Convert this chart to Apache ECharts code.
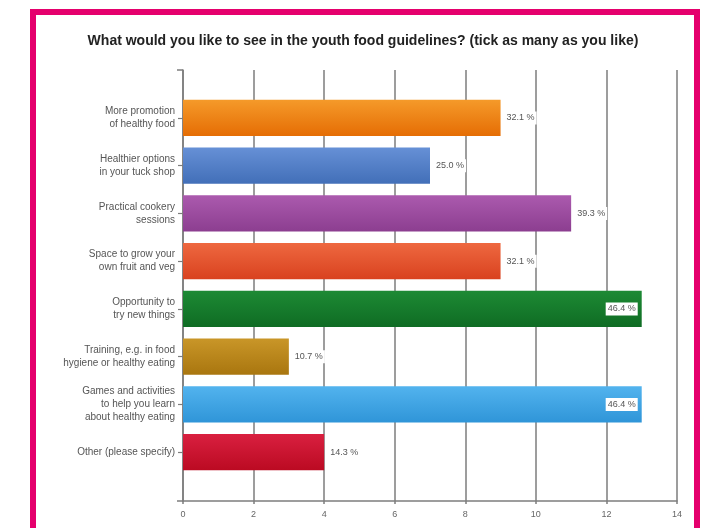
<!DOCTYPE html>
<html>
<head>
<meta charset="utf-8">
<script src="https://cdn.jsdelivr.net/npm/echarts@6/dist/echarts.min.js"></script>
<style>
  html, body { margin: 0; padding: 0; background: #fff; }
  #main { width: 703px; height: 528px; }
</style>
</head>
<body>
<div id="main"></div>
<script>
var categories = [
    'More promotion\nof healthy food',
    'Healthier options\nin your tuck shop',
    'Practical cookery\nsessions',
    'Space to grow your\nown fruit and veg',
    'Opportunity to\ntry new things',
    'Training, e.g. in food\nhygiene or healthy eating',
    'Games and activities\nto help you learn\nabout healthy eating',
    'Other (please specify)'
];
var counts = [9, 7, 11, 9, 13, 3, 13, 4];
var percentLabels = ['32.1 %', '25.0 %', '39.3 %', '32.1 %', '46.4 %', '10.7 %', '46.4 %', '14.3 %'];
var xTicks = [0, 14, 2];   // min, max, interval

// top / bottom shade of each bar
var barColors = [
    ['#f59a2a', '#e56d04'],
    ['#6690d6', '#426fb8'],
    ['#ab5aae', '#8c3e90'],
    ['#ee6840', '#d9421f'],
    ['#1d8a34', '#0f6c24'],
    ['#c99628', '#a9760f'],
    ['#52b3ee', '#2f95d8'],
    ['#d92040', '#bb0a22']
];

var chart = echarts.init(document.getElementById('main'));
var font = '"Liberation Sans", Arial, sans-serif';
var lineGray = '#7d7d7d';

var barData = counts.map(function (v, i) {
    return {
        value: v,
        itemStyle: {
            color: new echarts.graphic.LinearGradient(0, 0, 0, 1, [
                { offset: 0, color: barColors[i][0] },
                { offset: 1, color: barColors[i][1] }
            ])
        },
        label: { position: v >= xTicks[1] - 1 ? 'insideRight' : 'right' }
    };
});

var option = {
    backgroundColor: '#fff',
    animation: false,
    title: {
        text: 'What would you like to see in the youth food guidelines? (tick as many as you like)',
        left: 358,
        textAlign: 'center',
        top: 29,
        textStyle: { fontFamily: font, fontSize: 14, fontWeight: 'bold', color: '#222' }
    },
    graphic: [{
        type: 'rect',
        shape: { x: 33, y: 12, width: 664, height: 540 },
        style: { fill: 'none', stroke: '#e5006d', lineWidth: 6 },
        z: 100
    }],
    grid: [
        // frame grid: gridlines, x labels, axis lines
        { left: 183, right: 26, top: 70, bottom: 27 },
        // bar grid
        { left: 183, right: 26, top: 94, bottom: 52 }
    ],
    xAxis: [{
        gridIndex: 0,
        type: 'value',
        min: xTicks[0], max: xTicks[1], interval: xTicks[2],
        axisLine: { show: true, lineStyle: { color: lineGray, width: 1.5 } },
        axisTick: { show: true, length: 3, lineStyle: { color: lineGray, width: 1.5 } },
        axisLabel: { fontFamily: font, fontSize: 9, color: '#666', margin: 9 },
        splitLine: { show: true, lineStyle: { color: lineGray, width: 1.5 } }
    }, {
        gridIndex: 1,
        type: 'value',
        min: xTicks[0], max: xTicks[1],
        show: false
    }],
    yAxis: [{
        gridIndex: 0,
        type: 'value',
        min: 0, max: 1, interval: 1,
        axisLine: { show: true, lineStyle: { color: lineGray, width: 1.5 } },
        axisTick: { show: true, length: 6, lineStyle: { color: lineGray, width: 1.5 } },
        axisLabel: { show: false },
        splitLine: { show: false }
    }, {
        gridIndex: 1,
        type: 'category',
        data: categories,
        inverse: true,
        axisLine: { show: false },
        axisTick: { show: true, alignWithLabel: true, length: 5, lineStyle: { color: lineGray, width: 1.2 } },
        axisLabel: {
            fontFamily: font, fontSize: 10, color: '#555', lineHeight: 13,
            margin: 8, align: 'right'
        }
    }],
    series: [{
        type: 'bar',
        xAxisIndex: 1,
        yAxisIndex: 1,
        data: barData,
        barCategoryGap: '24%',
        label: {
            show: true,
            formatter: function (p) { return percentLabels[p.dataIndex]; },
            fontFamily: font, fontSize: 9, color: '#555',
            backgroundColor: '#fff',
            padding: [2, 2],
            distance: 4
        }
    }]
};

chart.setOption(option);
</script>
</body>
</html>
